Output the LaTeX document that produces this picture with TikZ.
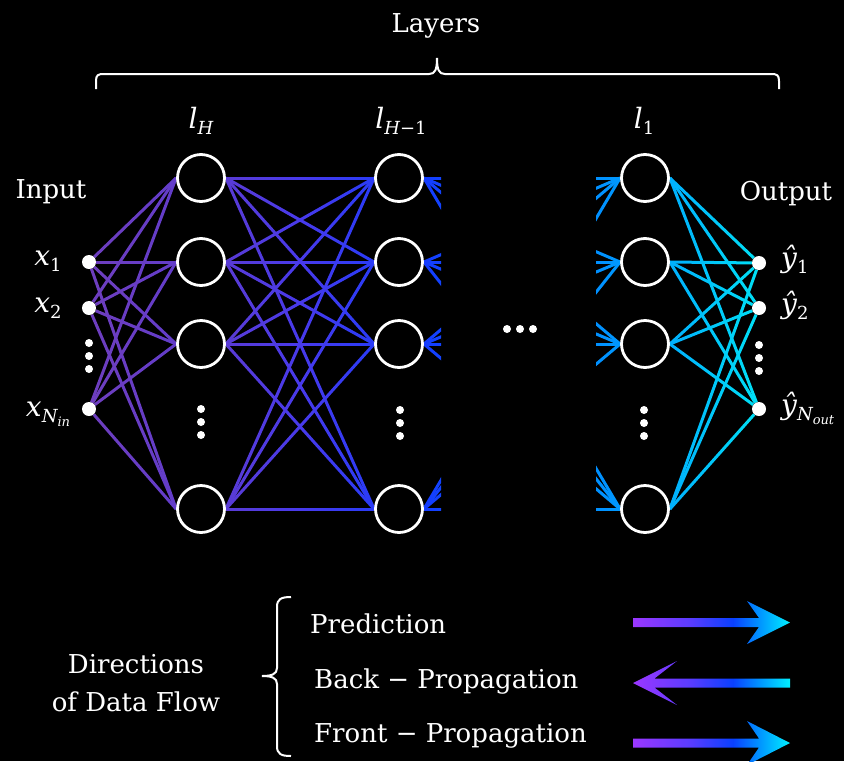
\documentclass[tikz,border=0pt]{standalone}
\usepackage{fontspec}
\setmainfont{DejaVu Serif}
\usetikzlibrary{calc}
\pgfdeclarelayer{bgl}
\pgfdeclarelayer{lines}
\pgfsetlayers{bgl,lines,main}
\definecolor{n0}{RGB}{110,62,190}
\definecolor{n1}{RGB}{95,60,205}
\definecolor{n2}{RGB}{72,58,235}
\definecolor{n3}{RGB}{20,60,255}
\definecolor{n4}{RGB}{0,145,255}
\definecolor{n5}{RGB}{0,165,255}
\definecolor{n6}{RGB}{0,225,245}
\definecolor{a0}{RGB}{155,55,255}
\definecolor{a1}{RGB}{90,60,255}
\definecolor{a2}{RGB}{10,64,255}
\definecolor{a3}{RGB}{0,150,255}
\definecolor{a4}{RGB}{0,240,255}
\pgfdeclarehorizontalshading{netgrad}{100bp}{color(0bp)=(n0); color(25.65bp)=(n0); color(33.77bp)=(n1); color(40.94bp)=(n2); color(50bp)=(n3); color(62.68bp)=(n4); color(66.3bp)=(n5); color(74.28bp)=(n6); color(100bp)=(n6)}
\pgfdeclarehorizontalshading{arrgrad}{100bp}{color(0bp)=(a0); color(25bp)=(a0); color(43.2bp)=(a1); color(56.8bp)=(a2); color(65.4bp)=(a3); color(75bp)=(a4); color(100bp)=(a4)}
\newcommand\mysub[1]{\raisebox{-6pt}{\fontsize{18}{20}\selectfont #1}}
\newcommand\mysubsub[1]{\raisebox{-4pt}{\fontsize{13}{14}\selectfont #1}}
\tikzset{
  neuron/.style={circle, draw=white, line width=2.8pt, minimum size=47pt, inner sep=0pt},
  iodot/.style={circle, fill=white, minimum size=14pt, inner sep=0pt},
  elldot/.style={circle, fill=white, minimum size=8pt, inner sep=0pt},
  conn/.style={draw=white, line width=3pt},
  lbl/.style={text=white, font=\fontsize{26}{31}\selectfont, inner sep=0pt},
  mlbl/.style={text=white, font=\fontsize{28}{32}\selectfont, inner sep=0pt},
  bracestyle/.style={draw=white, line width=2pt},
  flowarrow/.style={shading=arrgrad}
}
\begin{document}
\begin{tikzpicture}[x=1pt,y=-1pt]
\useasboundingbox (0,0) rectangle (844,761);
\begin{pgfonlayer}{bgl}
\fill[black] (0,0) rectangle (844,761);
\end{pgfonlayer}
% nodes
\foreach \n/\y in {1/262,2/308,3/409} \node[iodot] (in\n) at (89,\y) {};
\foreach \n/\y in {1/263,2/308,3/409} \node[iodot] (o\n) at (759,\y) {};
\foreach \n/\y in {1/178,2/262,3/344,4/509} {
  \node[neuron] (h\n) at (201,\y) {};
  \node[neuron] (g\n) at (399,\y) {};
  \node[neuron] (f\n) at (645,\y) {};
}
% ellipsis dots
\foreach \n/\y in {1/343,2/356,3/369} {
  \node[elldot] (ie\n) at (89,\y) {};
  \node[elldot] (oe\n) at (759,\y+2) {};
}
\foreach \n/\y in {1/409,2/422,3/435} {
  \node[elldot] (he\n) at (201,\y) {};
  \node[elldot] (ge\n) at (400,\y+1) {};
  \node[elldot] (fe\n) at (644,\y+1) {};
}
\foreach \n/\x in {1/507,2/520,3/533} \node[elldot] (me\n) at (\x,329) {};
% connectors
\begin{pgfonlayer}{lines}
\foreach \i in {1,2,3} \foreach \j in {1,...,4} \draw[conn] (in\i) -- (h\j.west);
\foreach \i in {1,...,4} \foreach \j in {1,...,4} \draw[conn] (h\i.east) -- (g\j.west);
\begin{scope}
  \clip (380,100) rectangle (441,545);
  \foreach \i in {1,...,4} \foreach \j in {1,...,4} \draw[conn] (g\i.east) -- (f\j.west);
\end{scope}
\begin{scope}
  \clip (596,100) rectangle (640,545);
  \foreach \i in {1,...,4} \foreach \j in {1,...,4} \draw[conn] (g\i.east) -- (f\j.west);
\end{scope}
\foreach \i in {1,...,4} \foreach \j in {1,2,3} \draw[conn] (f\i.east) -- (o\j);
\begin{scope}[blend mode=multiply]
  \shade[shading=netgrad] (80,100) rectangle (770,545);
\end{scope}
\end{pgfonlayer}
% labels
\node[lbl, anchor=base] (layers) at (436,32) {Layers};
\node[mlbl, anchor=base] (lH) at (201,128) {\itshape l\mysub{H}};
\node[mlbl, anchor=base] (lH1) at (401,128) {{\itshape l}\mysub{{\itshape H}−1}};
\node[mlbl, anchor=base] (l1) at (644,128) {{\itshape l}\mysub{1}};
\node[lbl, anchor=base] (input) at (51,198) {Input};
\node[lbl, anchor=base] (output) at (786,200) {Output};
\node[mlbl, anchor=base] (lx1) at (48,265) {{\itshape x}\mysub{1}};
\node[mlbl, anchor=base] (lx2) at (48,312) {{\itshape x}\mysub{2}};
\node[mlbl, anchor=base] (lx3) at (48,416) {{\itshape x}\mysub{{\itshape N}\mysubsub{\itshape in}}};
\node[mlbl, anchor=base west] (ly1) at (781,267) {{\itshape ŷ}\mysub{1}};
\node[mlbl, anchor=base west] (ly2) at (781,313) {{\itshape ŷ}\mysub{2}};
\node[mlbl, anchor=base west] (ly3) at (781,414) {{\itshape ŷ}\mysub{{\itshape N}\mysubsub{\itshape out}}};
% top brace
\coordinate (tbl) at (96,89);
\coordinate (tbm) at (437,58);
\coordinate (tbr) at (779,89);
\draw[bracestyle] (tbl) -- (96,81) .. controls (96,75) and (98,74) .. (104,74) -- (429,74)
  .. controls (435,74) and (437,70) .. (tbm) .. controls (437,70) and (439,74) .. (445,74)
  -- (771,74) .. controls (777,74) and (779,75) .. (779,81) -- (tbr);
% legend
\node[lbl, anchor=base] (dir1) at (136,673) {Directions};
\node[lbl, anchor=base] (dir2) at (136,711) {of Data Flow};
\coordinate (lbt) at (291,597);
\coordinate (lbm) at (262,676);
\coordinate (lbb) at (291,756);
\draw[bracestyle] (lbt) .. controls (281,597) and (277,599) .. (277,607) -- (277,668)
  .. controls (277,674) and (272,676) .. (lbm) .. controls (272,676) and (277,678) .. (277,684)
  -- (277,746) .. controls (277,754) and (281,756) .. (lbb);
\node[lbl, anchor=base west] (pred) at (310,633) {Prediction};
\node[lbl, anchor=base west] (back) at (314,688) {Back − Propagation};
\node[lbl, anchor=base west] (front) at (314,742) {Front − Propagation};
% arrows
\shade[flowarrow] (633,618) -- (759,618) -- (747,601) -- (790,622.5) -- (747,644) -- (759,627) -- (633,627) -- cycle;
\shade[flowarrow] (790,678.5) -- (654.5,678.5) -- (677,661) -- (633,683) -- (677,705) -- (654.5,687.5) -- (790,687.5) -- cycle;
\shade[flowarrow] (633,738.5) -- (759,738.5) -- (747,721) -- (790,743) -- (747,765) -- (759,747.5) -- (633,747.5) -- cycle;
\end{tikzpicture}
\end{document}
